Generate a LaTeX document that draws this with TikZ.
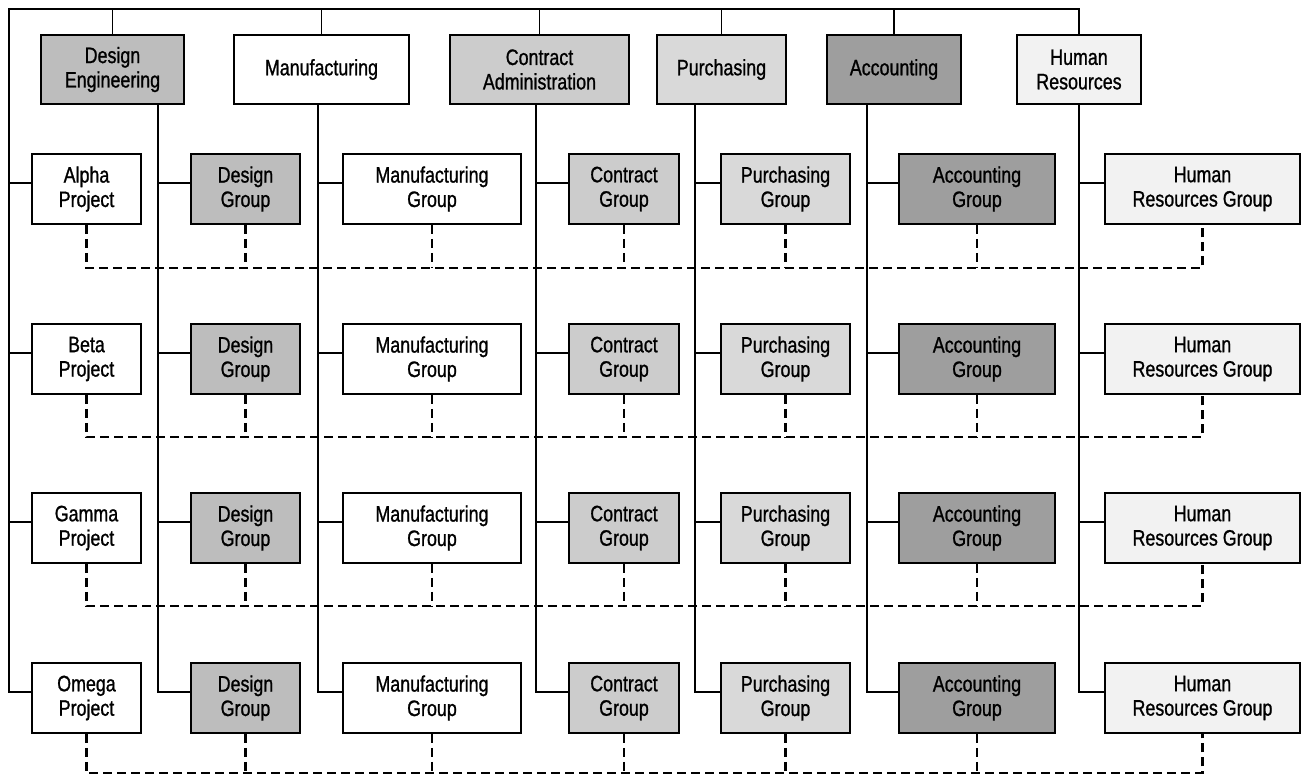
\documentclass[tikz,border=0pt]{standalone}
\usepackage{fontspec}
\setmainfont{Liberation Sans}[FakeStretch=0.8, FakeBold=1]
\usepackage{tikz}
\definecolor{designgray}{gray}{0.74}
\definecolor{contractgray}{gray}{0.80}
\definecolor{purchasegray}{gray}{0.85}
\definecolor{accountgray}{gray}{0.62}
\definecolor{hrgray}{gray}{0.95}
\tikzset{
  groupbox/.style={draw, line width=1.1pt, inner sep=0pt, align=center,
    minimum height=1.4cm, font=\fontsize{12.7}{13.9}\selectfont},
  deptbox/.style={groupbox, minimum height=1.38cm},
  orgline/.style={line width=0.9pt},
  taskline/.style={line width=1.2pt, dash pattern=on 0.18cm off 0.1cm}
}

\begin{document}
\begin{tikzpicture}[x=0.02cm, y=-0.02cm]
  \useasboundingbox (0,0) rectangle (1303,779);
  % functional departments
  \node[deptbox, fill=designgray, minimum width=2.86cm] (de) at (112.5,69.5) {Design\\Engineering};
  \node[deptbox, minimum width=3.5cm] (mf) at (321.5,69.5) {Manufacturing};
  \node[deptbox, fill=contractgray, minimum width=3.58cm] (ca) at (539.5,69.5) {Contract\\Administration};
  \node[deptbox, fill=purchasegray, minimum width=2.58cm] (pu) at (721.5,69.5) {Purchasing};
  \node[deptbox, fill=accountgray, minimum width=2.68cm] (ac) at (894,69.5) {Accounting};
  \node[deptbox, fill=hrgray, minimum width=2.48cm] (hr) at (1079,69.5) {Human\\Resources};

  % one row per project
  \foreach \r/\y/\d/\proj in {1/189/268/Alpha, 2/359/437/Beta, 3/528/606/Gamma, 4/698/773/Omega} {
    \coordinate (s\r) at (0,\y-6);
    \coordinate (t\r) at (0,\d);
    \node[groupbox, fill=white, minimum width=2.18cm] (pj\r) at (86.5,\y) {\proj\\Project};
    \node[groupbox, fill=designgray, minimum width=2.18cm] (dg\r) at (245.5,\y) {Design\\Group};
    \node[groupbox, minimum width=3.56cm] (mg\r) at (432,\y) {Manufacturing\\Group};
    \node[groupbox, fill=contractgray, minimum width=2.2cm] (cg\r) at (624,\y) {Contract\\Group};
    \node[groupbox, fill=purchasegray, minimum width=2.58cm] (pg\r) at (785.5,\y) {Purchasing\\Group};
    \node[groupbox, fill=accountgray, minimum width=3.12cm] (ag\r) at (977,\y) {Accounting\\Group};
    \node[groupbox, fill=hrgray, minimum width=3.9cm] (hg\r) at (1202.5,\y) {Human\\Resources Group};
  }

  % top bus and project spine
  \coordinate (busL) at (9,9);
  \draw[orgline] (pj4.west |- s4) -| (busL) -| (hr.north);
  \foreach \n in {de,mf,ca,pu,ac}
    \draw[orgline] (\n.north) -- (\n.north |- busL);
  \foreach \r in {1,2,3}
    \draw[orgline] (busL |- s\r) -- (pj\r.west |- s\r);

  % department drops to their groups
  \foreach \n/\g/\x in {de/dg/158, mf/mg/318, ca/cg/536, pu/pg/695, ac/ag/867, hr/hg/1079} {
    \coordinate (drop) at (\x,0);
    \draw[orgline] (\n.south -| drop) |- (\g4.west |- s4);
    \foreach \r in {1,2,3}
      \draw[orgline] (drop |- s\r) -- (\g\r.west |- s\r);
  }

  % project team links
  \foreach \r in {1,...,4} {
    \draw[taskline] (pj\r.south) |- (hg\r.south |- t\r) -- (hg\r.south);
    \foreach \g in {dg,mg,cg,pg,ag}
      \draw[taskline] (\g\r.south) -- (\g\r.south |- t\r);
  }
\end{tikzpicture}
\end{document}
